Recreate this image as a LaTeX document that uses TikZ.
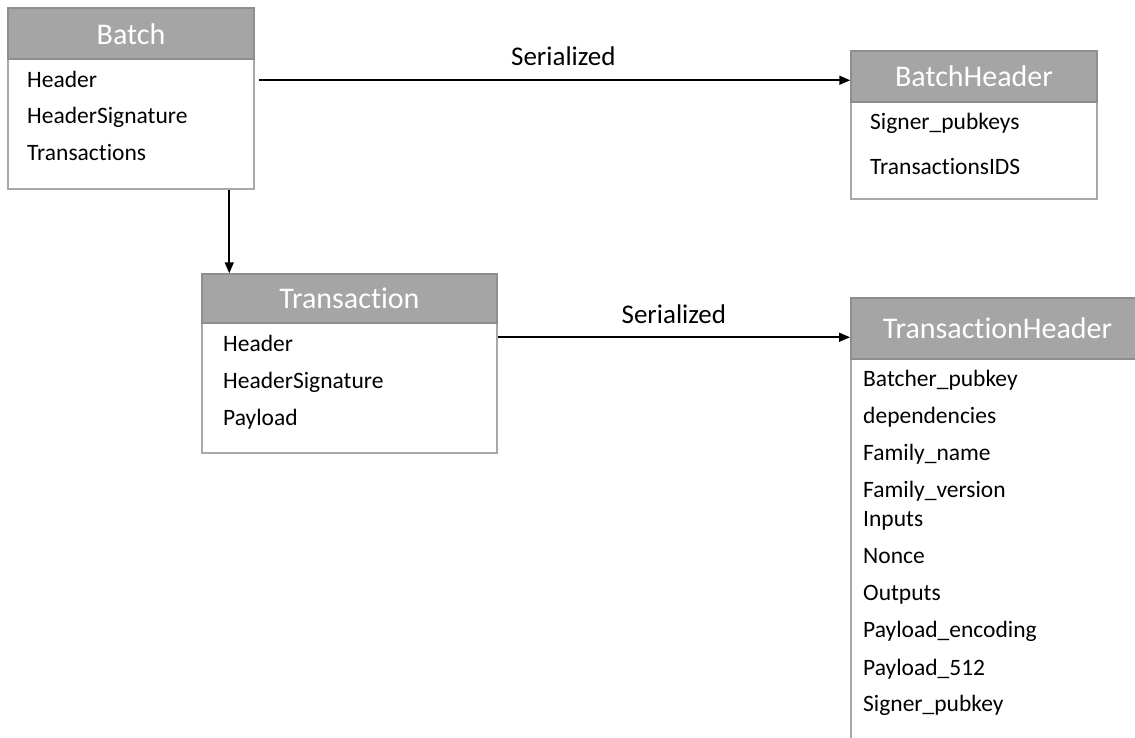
\documentclass[tikz,border=0pt]{standalone}
\usepackage{fontspec}
\setmainfont{Carlito}[Ligatures=NoCommon]
\usetikzlibrary{arrows.meta,calc}
\definecolor{bandgray}{HTML}{A5A5A5}
\definecolor{banddraw}{HTML}{8E8E8E}
\definecolor{boxdraw}{HTML}{A8A8A8}
\tikzset{
  classbox/.style={draw=boxdraw, line width=1.5pt, fill=white, inner sep=0pt},
  band/.style={draw=banddraw, line width=1.5pt, fill=bandgray, inner sep=0pt},
  title/.style={anchor=base, inner sep=0pt, text=white, font=\fontsize{30}{34}\selectfont},
  field/.style={anchor=base west, inner sep=0pt, font=\fontsize{23.5}{27}\selectfont},
  flow/.style={line width=1.6pt, -{Triangle[length=11pt,width=9pt]}},
  flowlabel/.style={anchor=base, inner sep=0pt, font=\fontsize{27}{31}\selectfont},
}
\begin{document}
\begin{tikzpicture}[x=1pt,y=-1pt]
\useasboundingbox (0,0) rectangle (1135,738);
\clip (0,0) rectangle (1135,738);
\fill[white] (0,0) rectangle (1135,738);

% Batch
\node[classbox, minimum width=246pt, minimum height=181pt] (batch) at (131,98.5) {};
\node[band, minimum width=246pt, minimum height=51pt, anchor=north] (batchband) at (batch.north) {};
\node[title] (batchtitle) at (131,45) {Batch};
\node[field] (bf1) at (27,87.3) {Header};
\node[field] (bf2) at (27,124) {HeaderSignature};
\node[field] (bf3) at (27,160.7) {Transactions};

% BatchHeader
\node[classbox, minimum width=246pt, minimum height=148pt] (bh) at (974,125) {};
\node[band, minimum width=246pt, minimum height=51pt, anchor=north] (bhband) at (bh.north) {};
\node[title] (bhtitle) at (974,86.7) {BatchHeader};
\node[field] (bhf1) at (870,129.3) {Signer\_pubkeys};
\node[field] (bhf2) at (870,175) {TransactionsIDS};

% Transaction
\node[classbox, minimum width=295pt, minimum height=179pt] (tx) at (349.5,363.5) {};
\node[band, minimum width=295pt, minimum height=49pt, anchor=north] (txband) at (tx.north) {};
\node[title] (txtitle) at (349.5,308.3) {Transaction};
\node[field] (tf1) at (223,351.7) {Header};
\node[field] (tf2) at (223,388.3) {HeaderSignature};
\node[field] (tf3) at (223,425) {Payload};

% TransactionHeader (runs past the right and bottom edges)
\node[classbox, minimum width=295pt, minimum height=480pt, anchor=north west] (th) at (850,297) {};
\node[band, minimum width=295pt, minimum height=61pt, anchor=north] (thband) at (th.north) {};
\node[title] (thtitle) at (997.5,338.3) {TransactionHeader};
\node[field] (hf1) at (863,386.7) {Batcher\_pubkey};
\node[field] (hf2) at (863,423.3) {dependencies};
\node[field] (hf3) at (863,460) {Family\_name};
\node[field] (hf4) at (863,497.7) {Family\_version};
\node[field] (hf5) at (863,526) {Inputs};
\node[field] (hf6) at (863,563.3) {Nonce};
\node[field] (hf7) at (863,600.7) {Outputs};
\node[field] (hf8) at (863,637.7) {Payload\_encoding};
\node[field] (hf9) at (863,675) {Payload\_512};
\node[field] (hf10) at (863,711) {Signer\_pubkey};

% Connectors
\coordinate (bstart) at ($(batch.north east)+(4,73)$);
\draw[flow] (bstart) -- (bstart -| bh.west)
  node[flowlabel, pos=0.515, yshift=15pt] {Serialized};
\draw[flow] ($(batch.south west)+(222,0)$) -- ($(tx.north west)+(28,0)$);
\coordinate (tstart) at ($(tx.north east)+(0,64)$);
\draw[flow] (tstart) -- (tstart -| th.west)
  node[flowlabel, midway, yshift=14pt] {Serialized};
\end{tikzpicture}
\end{document}
